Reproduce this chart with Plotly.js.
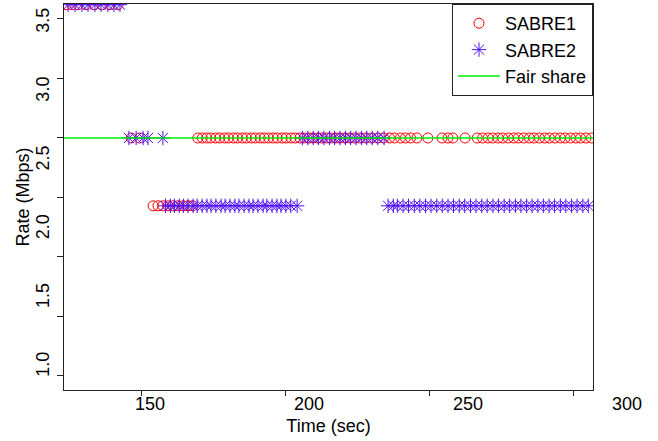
<!DOCTYPE html>
<html>
<head>
<meta charset="utf-8">
<script src="https://cdn.plot.ly/plotly-3.0.1.min.js"></script>
<style>html,body{margin:0;padding:0;background:#fff}#chart{width:658px;height:441px}</style>
</head>
<body>
<div id="chart"></div>
<script>
// ---- data (time in sec, rate in Mbps) ----
var s1Time = [124.0,126.0,128.1,130.9,133.7,136.5,139.2,142.0,
  146.6,149.5,
  154.2,155.9,157.6,159.4,161.1,162.8,164.6,166.3,167.9,
  169.7,171.3,172.8,174.2,175.9,177.3,179.0,180.4,182.1,183.5,185.2,186.6,188.3,189.7,191.4,192.8,194.3,195.9,197.3,199.0,
  200.4,202.1,203.5,205.2,206.6,208.3,209.7,211.4,212.8,214.5,215.9,217.6,219.0,220.7,222.4,224.1,225.9,227.9,230.0,232.1,
  234.2,236.3,238.0,240.1,241.8,243.6,245.8,
  249.6,254.5,256.6,258.3,262.5,
  266.7,268.6,270.5,272.1,274.0,275.6,277.5,279.4,281.0,282.9,284.8,286.4,288.3,290.2,291.8,293.7,295.6,297.2,299.1,301.0,
  302.6,304.5,306.4];
var s1Rate = [3.62,3.62,3.62,3.62,3.62,3.62,3.62,3.62,
  2.50,2.50,
  1.93,1.93,1.93,1.93,1.93,1.93,1.93,1.93,1.93,
  2.50,2.50,2.50,2.50,2.50,2.50,2.50,2.50,2.50,2.50,2.50,2.50,2.50,2.50,2.50,2.50,2.50,2.50,2.50,2.50,
  2.50,2.50,2.50,2.50,2.50,2.50,2.50,2.50,2.50,2.50,2.50,2.50,2.50,2.50,2.50,2.50,2.50,2.50,2.50,2.50,
  2.50,2.50,2.50,2.50,2.50,2.50,2.50,
  2.50,2.50,2.50,2.50,2.50,
  2.50,2.50,2.50,2.50,2.50,2.50,2.50,2.50,2.50,2.50,2.50,2.50,2.50,2.50,2.50,2.50,2.50,2.50,2.50,2.50,
  2.50,2.50,2.50];

var s2Time = [124.7,127.1,129.5,131.6,134.0,136.1,138.5,140.6,142.7,
  145.8,148.3,150.7,152.4,157.6,
  158.5,160.2,161.6,163.3,164.7,166.3,168.1,169.5,171.2,172.9,174.3,176.0,177.8,179.2,180.9,182.6,184.0,185.8,187.5,188.9,
  190.6,192.4,193.7,195.5,197.2,198.6,200.3,202.0,204.2,
  206.0,207.9,209.8,211.6,213.5,215.4,217.2,219.1,221.0,222.8,224.7,226.6,228.4,230.3,232.2,234.4,
  235.8,237.6,239.0,241.0,242.9,244.9,246.8,248.8,250.7,252.7,254.6,256.6,258.5,260.5,262.4,264.4,266.3,268.3,270.2,272.2,
  274.1,276.1,278.0,280.0,281.9,283.9,285.8,287.8,289.7,291.7,293.6,295.6,297.5,299.5,301.4,303.4,305.3];
var s2Rate = [3.62,3.62,3.62,3.62,3.62,3.62,3.62,3.62,3.62,
  2.50,2.50,2.50,2.50,2.50,
  1.93,1.93,1.93,1.93,1.93,1.93,1.93,1.93,1.93,1.93,1.93,1.93,1.93,1.93,1.93,1.93,1.93,1.93,1.93,1.93,
  1.93,1.93,1.93,1.93,1.93,1.93,1.93,1.93,1.93,
  2.50,2.50,2.50,2.50,2.50,2.50,2.50,2.50,2.50,2.50,2.50,2.50,2.50,2.50,2.50,2.50,
  1.93,1.93,1.93,1.93,1.93,1.93,1.93,1.93,1.93,1.93,1.93,1.93,1.93,1.93,1.93,1.93,1.93,1.93,1.93,1.93,
  1.93,1.93,1.93,1.93,1.93,1.93,1.93,1.93,1.93,1.93,1.93,1.93,1.93,1.93,1.93,1.93,1.93];

var fairTime = [110, 320];
var fairRate = [2.5, 2.5];

var xTickVals = [150, 200, 250, 300];
var xTickText = ['150', '200', '250', '300'];
var yTickVals = [0.5, 1.0, 1.5, 2.0, 2.5, 3.0, 3.5];
var yLabelVals = [1.0, 1.5, 2.0, 2.5, 3.0, 3.5];
var yLabelText = ['1.0', '1.5', '2.0', '2.5', '3.0', '3.5'];

var FONT = 'Liberation Sans, Arial, sans-serif';

var traces = [
  {x: s1Time, y: s1Rate, type: 'scatter', mode: 'markers', name: 'SABRE1',
   marker: {symbol: 'circle-open', size: 10, color: '#ff0000', line: {width: 1, color: '#ff0000'}}},
  {x: s2Time, y: s2Rate, type: 'scatter', mode: 'markers', name: 'SABRE2',
   marker: {symbol: 'asterisk-open', size: 12, color: '#5010f5', line: {width: 1, color: '#5010f5'}}},
  {x: fairTime, y: fairRate, type: 'scatter', mode: 'lines', name: 'Fair share',
   line: {color: '#00f000', width: 1.5}},
  {x: [], y: [], xaxis: 'x2', yaxis: 'y', type: 'scatter', mode: 'markers', showlegend: false, hoverinfo: 'skip'},
  {x: [], y: [], xaxis: 'x', yaxis: 'y2', type: 'scatter', mode: 'markers', showlegend: false, hoverinfo: 'skip'}
];

var xDomEnd = 529 / 584;

var layout = {
  width: 658, height: 441,
  margin: {l: 64, r: 10, t: 4, b: 51},
  paper_bgcolor: '#ffffff',
  plot_bgcolor: 'rgba(0,0,0,0)',
  font: {family: FONT, size: 18, color: '#000'},
  showlegend: true,
  legend: {
    x: xDomEnd, xanchor: 'right', y: 1, yanchor: 'top',
    bgcolor: '#ffffff', bordercolor: '#222', borderwidth: 1,
    font: {family: FONT, size: 18, color: '#000'},
    itemwidth: 42, tracegroupgap: 0
  },
  xaxis: {
    domain: [0, xDomEnd], anchor: 'y',
    range: [123.26, 306.94], tickmode: 'array', tickvals: xTickVals,
    showticklabels: false, ticks: 'outside', ticklen: 5, tickcolor: '#222', tickwidth: 1,
    showline: true, mirror: true, linecolor: '#222', linewidth: 1,
    showgrid: false, zeroline: false,
    title: {text: 'Time (sec)', font: {family: FONT, size: 18}, standoff: 24}
  },
  xaxis2: {
    domain: [0, 1], anchor: 'y',
    range: [122.96, 306.6], tickmode: 'array', tickvals: xTickVals, ticktext: xTickText,
    showticklabels: true, ticks: '', showline: false, showgrid: false, zeroline: false,
    tickfont: {family: FONT, size: 18, color: '#000'}, ticklabelstandoff: 1
  },
  yaxis: {
    domain: [0, 1], anchor: 'x',
    range: [0.382, 3.626], tickmode: 'array', tickvals: yTickVals,
    showticklabels: false, ticks: 'outside', ticklen: 6, tickcolor: '#222', tickwidth: 1,
    showline: true, mirror: true, linecolor: '#222', linewidth: 1,
    showgrid: false, zeroline: false,
    title: {text: 'Rate (Mbps)', font: {family: FONT, size: 18}, standoff: 22}
  },
  yaxis2: {
    overlaying: 'y', side: 'left', anchor: 'x',
    range: [0.833, 3.638], tickmode: 'array', tickvals: yLabelVals, ticktext: yLabelText,
    showticklabels: true, ticks: '', tickangle: -90, showline: false, showgrid: false, zeroline: false,
    tickfont: {family: FONT, size: 18, color: '#000'}, ticklabelstandoff: 10
  }
};

Plotly.newPlot('chart', traces, layout, {displayModeBar: false, staticPlot: true});
</script>
</body>
</html>
